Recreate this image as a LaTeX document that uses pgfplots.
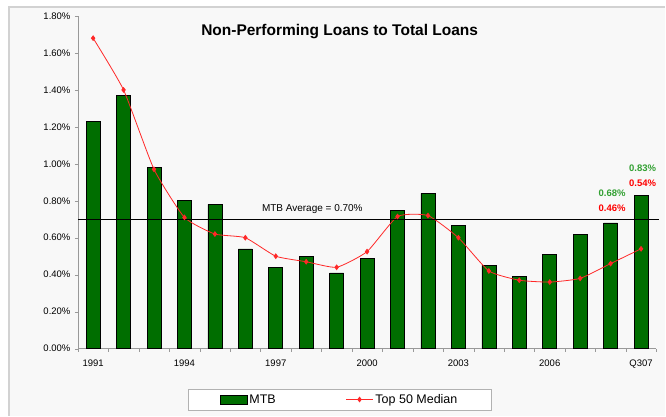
\documentclass[border=0pt]{standalone}
\usepackage{fontspec}
\setmainfont{Liberation Sans}
\usepackage{pgfplots}
\pgfplotsset{compat=1.18}
\definecolor{bargreen}{RGB}{0,110,0}
\definecolor{bg}{RGB}{248,248,248}
\definecolor{lblgreen}{RGB}{50,160,50}
\definecolor{lnred}{RGB}{255,40,40}
\pgfplotsset{
  barleg/.style={legend image code/.code={\draw[fill=bargreen, draw=black, line width=0.6pt] (0pt,-4.5pt) rectangle (27pt,4.5pt);}},
  lineleg/.style={legend image code/.code={\draw[##1, mark repeat=2, mark phase=2] plot coordinates {(0pt,0pt) (13.5pt,0pt) (27pt,0pt)};}},
}
\begin{document}
\begin{tikzpicture}
\fill[white] (0pt,0pt) rectangle (666pt,416pt);
\fill[bg] (9pt,0pt) rectangle (666pt,409pt);
\draw[gray!35, line width=1.5pt] (9pt,0pt) -- (9pt,409pt) -- (666pt,409pt);
\path[use as bounding box] (0pt,0pt) rectangle (666pt,416pt);
\node[font=\fontsize{15.5}{17}\selectfont\bfseries] at (340pt,384pt) {Non-Performing Loans to Total Loans};
\begin{axis}[
  at={(78pt,67pt)}, anchor=south west, scale only axis,
  width=579pt, height=333pt,
  xmin=-0.5, xmax=18.5, ymin=0, ymax=1.8,
  axis x line=bottom, axis y line=left,
  axis line style={draw=gray!80, -},
  /pgf/number format/assume math mode=true,
  ytick={0,0.2,0.4,0.6,0.8,1.0,1.2,1.4,1.6,1.8},
  yticklabels={0.00\%,0.20\%,0.40\%,0.60\%,0.80\%,1.00\%,1.20\%,1.40\%,1.60\%,1.80\%},
  xtick={0,3,6,9,12,15,18},
  xticklabels={1991,1994,1997,2000,2003,2006,Q307},
  minor xtick={-0.5,0.5,...,18.5},
  major x tick style={draw=none},
  minor x tick style={draw=gray!80},
  y tick style={draw=gray!80},
  tick align=outside, major tick length=3pt, minor tick length=3pt,
  tick label style={font=\fontsize{9.5}{10}\selectfont},
  yticklabel style={xshift=-1pt},
  xticklabel style={yshift=-5pt},
  clip=false,
  legend style={at={(0.4525,-0.153)}, anchor=center, legend columns=2,
    draw=gray!60, fill=white, font=\fontsize{12.5}{13}\selectfont,
    inner xsep=32pt, inner ysep=3.5pt,
    /tikz/every even column/.append style={column sep=68pt}},
]
\addplot[ybar, bar width=14pt, fill=bargreen, draw=black, line width=0.6pt, barleg]
  coordinates {(0,1.23) (1,1.37) (2,0.98) (3,0.80) (4,0.78) (5,0.54) (6,0.44) (7,0.50) (8,0.41) (9,0.49)
  (10,0.75) (11,0.84) (12,0.665) (13,0.45) (14,0.39) (15,0.51) (16,0.62) (17,0.68) (18,0.83)};
\addlegendentry{MTB}
\addplot[lnred, line width=0.8pt, mark=diamond*, mark size=2.3pt, mark options={fill=lnred, draw=lnred}, smooth, tension=0.3, lineleg]
  coordinates {(0,1.68) (1,1.40) (2,0.97) (3,0.71) (4,0.62) (5,0.60) (6,0.50) (7,0.47) (8,0.44) (9,0.525)
  (10,0.715) (11,0.72) (12,0.60) (13,0.42) (14,0.37) (15,0.36) (16,0.38) (17,0.46) (18,0.54)};
\addlegendentry{Top 50 Median}
\addplot[black, line width=1.3pt, forget plot] coordinates {(-0.5,0.70) (18.6,0.70)};
\node[font=\fontsize{10}{11}\selectfont] at (axis cs:7.2,0.755) {MTB Average = 0.70\%};
\node[font=\fontsize{9.5}{10}\selectfont\bfseries, text=lblgreen] at (axis cs:18.05,0.978) {0.83\%};
\node[font=\fontsize{9.5}{10}\selectfont\bfseries, text=red] at (axis cs:18.05,0.897) {0.54\%};
\node[font=\fontsize{9.5}{10}\selectfont\bfseries, text=lblgreen] at (axis cs:17.05,0.843) {0.68\%};
\node[font=\fontsize{9.5}{10}\selectfont\bfseries, text=red] at (axis cs:17.05,0.762) {0.46\%};
\end{axis}
\end{tikzpicture}
\end{document}
